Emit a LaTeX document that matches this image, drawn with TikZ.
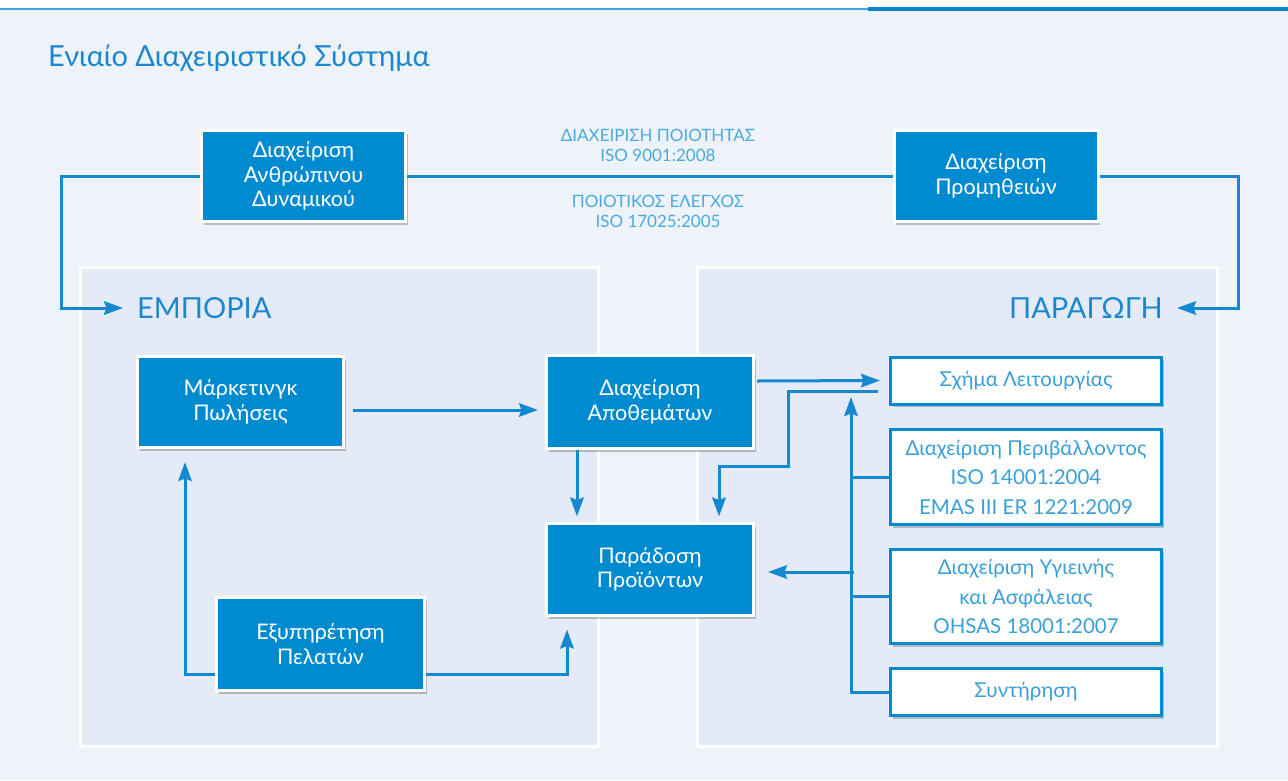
\documentclass[tikz,border=0pt]{standalone}
\usepackage{fontspec}
\setmainfont{Lato}
\newfontfamily\lightf{Lato}
\usetikzlibrary{arrows.meta,shadows,calc}
\definecolor{bgc}{HTML}{EEF3FA}
\definecolor{panelc}{HTML}{E4EBF6}
\definecolor{boxblue}{HTML}{008BD0}
\definecolor{lineblue}{HTML}{1489D0}
\definecolor{titlec}{HTML}{1B87CE}
\definecolor{labelc}{HTML}{4AAAE0}
\definecolor{wtext}{HTML}{3AA0DA}
\definecolor{topthin}{HTML}{3FA9DF}
\definecolor{topthick}{HTML}{0A86CC}
\tikzset{
  shad/.style={drop shadow={shadow xshift=2pt,shadow yshift=-3pt,opacity=0.22,fill=black}},
  bluebox/.style={rectangle, fill=boxblue, draw=white, line width=3pt, text=white, align=center,
    font=\fontsize{21.5}{24.5}\selectfont, inner sep=0pt, shad},
  whitebox/.style={rectangle, fill=white, draw=boxblue, line width=3pt, text=wtext, align=center,
    font=\lightf\fontsize{20.5}{29.5}\selectfont, inner sep=0pt, minimum width=271pt, shad},
  conn/.style={draw=lineblue, line width=3pt},
  arr/.style={conn, -{Stealth[length=19pt,width=13.5pt,inset=2.5pt]}},
  bigl/.style={text=titlec, font=\fontsize{29}{32}\selectfont, inner ysep=0pt, inner xsep=14pt},
  midl/.style={text=labelc, align=center, font=\lightf\fontsize{17}{20}\selectfont, inner sep=0pt},
  panel/.style={draw=white, line width=3pt, fill=panelc}
}
\begin{document}
\begin{tikzpicture}[x=1pt,y=-1pt]
\useasboundingbox (0,0) rectangle (1288,780);
\fill[white] (0,0) rectangle (1288,780);
\fill[bgc] (0,8) rectangle (1288,780);
\fill[topthin] (0,7.5) rectangle (868,9.5);
\fill[topthick] (868,6.5) rectangle (1288,11);

\node[anchor=base west, text=titlec, font=\fontsize{29}{32}\selectfont, inner sep=0pt] (title) at (48,66) {Ενιαίο Διαχειριστικό Σύστημα};

\draw[panel] (80,267) rectangle (598,746);
\draw[panel] (697,267) rectangle (1217,746);

% top boxes
\node[bluebox, minimum width=204pt, minimum height=91pt] (hr) at (303.5,176) {Διαχείριση\\Ανθρώπινου\\Δυναμικού};
\node[bluebox, minimum width=204pt, minimum height=91pt] (pr) at (996,176) {Διαχείριση\\Προμηθειών};

\node[midl] (q1) at (658,145.5) {ΔΙΑΧΕΙΡΙΣΗ ΠΟΙΟΤΗΤΑΣ\\ISO 9001:2008};
\node[midl] (q2) at (658,211.5) {ΠΟΙΟΤΙΚΟΣ ΕΛΕΓΧΟΣ\\ISO 17025:2005};

\node[bigl, anchor=west] (em) at (123,308) {ΕΜΠΟΡΙΑ};
\node[bigl, anchor=east] (pa) at (1177,308) {ΠΑΡΑΓΩΓΗ};

% left panel boxes
\node[bluebox, minimum width=206pt, minimum height=91pt] (mk) at (240.5,402) {Μάρκετινγκ\\Πωλήσεις};
\node[bluebox, minimum width=207pt, minimum height=93pt] (ap) at (650,402) {Διαχείριση\\Αποθεμάτων};
\node[bluebox, minimum width=207pt, minimum height=92pt] (pd) at (650,569.5) {Παράδοση\\Προϊόντων};
\node[bluebox, minimum width=208pt, minimum height=93pt] (ex) at (320.5,644) {Εξυπηρέτηση\\Πελατών};

% right panel boxes
\node[whitebox, minimum height=47pt] (sx) at (1026,380.5) {Σχήμα Λειτουργίας};
\node[whitebox, minimum height=95pt] (env) at (1026,477) {Διαχείριση Περιβάλλοντος\\ISO 14001:2004\\EMAS III ER 1221:2009};
\node[whitebox, minimum height=94pt] (hs) at (1026,596.5) {Διαχείριση Υγιεινής\\και Ασφάλειας\\OHSAS 18001:2007};
\node[whitebox, minimum height=47pt] (mt) at (1026,692) {Συντήρηση};

% top connectors
\draw[conn] (hr.east) -- (pr.west);
\draw[arr] (hr.west) -| ([xshift=-62pt]em.west) -- (em.west);
\draw[arr] (pr.east) -| ([xshift=61pt]pa.east) -- (pa.east);

% left panel connectors
\draw[arr] ($(mk.east)+(8,8)$) -- ($(ap.west |- mk.east)+(-7,8)$);
\draw[arr] ([xshift=-73pt]ap.south) -- ([xshift=-73pt,yshift=5.5pt]pd.north);
\draw[arr] ([yshift=-30pt]ex.west) -| ([xshift=-55.5pt,yshift=-13pt]mk.south);
\draw[arr] ([yshift=-30pt]ex.east) -| ([xshift=-83pt,yshift=-12.5pt]pd.south);

% right panel connectors
\draw[arr] ([xshift=2pt,yshift=21pt]ap.east) -- ([xshift=-9pt]sx.west);
\draw[arr] ([xshift=-11pt,yshift=-11pt]sx.west) -- ++(-90,0) -- ++(0,75) -- ++(-69,0) -- ([xshift=69pt,yshift=5.5pt]pd.north);
\draw[arr] ([xshift=-38pt]mt.west) -- ([xshift=-38pt,yshift=-16.5pt]sx.west);
\draw[conn] (env.west) -- ++(-39.5,0);
\draw[conn] (hs.west) -- ++(-39.5,0);
\draw[conn] (mt.west) -- ++(-39.5,0);
\draw[arr] ($(pd.east)+(98.5,2.5)$) -- ($(pd.east)+(13,2.5)$);
\end{tikzpicture}
\end{document}
